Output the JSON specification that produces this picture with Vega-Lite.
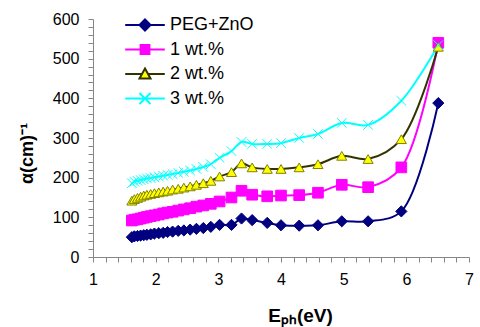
{
  "$schema": "https://vega.github.io/schema/vega-lite/v6.json",
  "width": 376,
  "height": 238,
  "autosize": {"type": "none"},
  "padding": {"left": 93, "top": 19, "right": 11, "bottom": 70},
  "background": "white",
  "config": {
    "view": {"stroke": null},
    "font": "Liberation Sans",
    "legend": {
      "orient": "none", "legendX": 43, "legendY": -3,
      "labelFont": "Liberation Sans", "labelFontSize": 18, "labelColor": "black",
      "labelOffset": 16, "rowPadding": 5.5, "symbolSize": 121, "symbolStrokeWidth": 2,
      "symbolOpacity": 1, "padding": 0
    }
  },
  "data": {"values": [
    {"E":1.62,"alpha":50,"series":"PEG+ZnO"},{"E":1.66,"alpha":52,"series":"PEG+ZnO"},{"E":1.71,"alpha":53,"series":"PEG+ZnO"},{"E":1.76,"alpha":54,"series":"PEG+ZnO"},{"E":1.81,"alpha":55,"series":"PEG+ZnO"},{"E":1.86,"alpha":56,"series":"PEG+ZnO"},{"E":1.92,"alpha":57,"series":"PEG+ZnO"},{"E":1.98,"alpha":59,"series":"PEG+ZnO"},{"E":2.05,"alpha":60,"series":"PEG+ZnO"},{"E":2.12,"alpha":61,"series":"PEG+ZnO"},{"E":2.19,"alpha":63,"series":"PEG+ZnO"},{"E":2.27,"alpha":64,"series":"PEG+ZnO"},{"E":2.36,"alpha":66,"series":"PEG+ZnO"},{"E":2.45,"alpha":67,"series":"PEG+ZnO"},{"E":2.55,"alpha":69,"series":"PEG+ZnO"},{"E":2.65,"alpha":71,"series":"PEG+ZnO"},{"E":2.76,"alpha":73,"series":"PEG+ZnO"},{"E":2.88,"alpha":76,"series":"PEG+ZnO"},{"E":3.02,"alpha":81,"series":"PEG+ZnO"},{"E":3.21,"alpha":81,"series":"PEG+ZnO"},{"E":3.37,"alpha":97,"series":"PEG+ZnO"},{"E":3.54,"alpha":93,"series":"PEG+ZnO"},{"E":3.78,"alpha":86,"series":"PEG+ZnO"},{"E":4.00,"alpha":80,"series":"PEG+ZnO"},{"E":4.29,"alpha":79,"series":"PEG+ZnO"},{"E":4.59,"alpha":80,"series":"PEG+ZnO"},{"E":4.97,"alpha":90,"series":"PEG+ZnO"},{"E":5.39,"alpha":90,"series":"PEG+ZnO"},{"E":5.92,"alpha":115,"series":"PEG+ZnO"},{"E":6.51,"alpha":388,"series":"PEG+ZnO"},
    {"E":1.62,"alpha":92,"series":"1 wt.%"},{"E":1.66,"alpha":94,"series":"1 wt.%"},{"E":1.71,"alpha":95,"series":"1 wt.%"},{"E":1.76,"alpha":97,"series":"1 wt.%"},{"E":1.81,"alpha":99,"series":"1 wt.%"},{"E":1.86,"alpha":101,"series":"1 wt.%"},{"E":1.92,"alpha":103,"series":"1 wt.%"},{"E":1.98,"alpha":105,"series":"1 wt.%"},{"E":2.05,"alpha":107,"series":"1 wt.%"},{"E":2.12,"alpha":110,"series":"1 wt.%"},{"E":2.19,"alpha":112,"series":"1 wt.%"},{"E":2.27,"alpha":114,"series":"1 wt.%"},{"E":2.36,"alpha":117,"series":"1 wt.%"},{"E":2.45,"alpha":120,"series":"1 wt.%"},{"E":2.55,"alpha":123,"series":"1 wt.%"},{"E":2.65,"alpha":127,"series":"1 wt.%"},{"E":2.76,"alpha":130,"series":"1 wt.%"},{"E":2.88,"alpha":134,"series":"1 wt.%"},{"E":3.02,"alpha":140,"series":"1 wt.%"},{"E":3.21,"alpha":150,"series":"1 wt.%"},{"E":3.37,"alpha":167,"series":"1 wt.%"},{"E":3.54,"alpha":157,"series":"1 wt.%"},{"E":3.78,"alpha":153,"series":"1 wt.%"},{"E":4.00,"alpha":155,"series":"1 wt.%"},{"E":4.29,"alpha":156,"series":"1 wt.%"},{"E":4.59,"alpha":162,"series":"1 wt.%"},{"E":4.97,"alpha":182,"series":"1 wt.%"},{"E":5.39,"alpha":176,"series":"1 wt.%"},{"E":5.92,"alpha":226,"series":"1 wt.%"},{"E":6.51,"alpha":540,"series":"1 wt.%"},
    {"E":1.62,"alpha":142,"series":"2 wt.%"},{"E":1.66,"alpha":146,"series":"2 wt.%"},{"E":1.71,"alpha":149,"series":"2 wt.%"},{"E":1.76,"alpha":152,"series":"2 wt.%"},{"E":1.81,"alpha":155,"series":"2 wt.%"},{"E":1.86,"alpha":157,"series":"2 wt.%"},{"E":1.92,"alpha":159,"series":"2 wt.%"},{"E":1.98,"alpha":161,"series":"2 wt.%"},{"E":2.05,"alpha":163,"series":"2 wt.%"},{"E":2.12,"alpha":165,"series":"2 wt.%"},{"E":2.19,"alpha":167,"series":"2 wt.%"},{"E":2.27,"alpha":170,"series":"2 wt.%"},{"E":2.36,"alpha":172,"series":"2 wt.%"},{"E":2.45,"alpha":175,"series":"2 wt.%"},{"E":2.55,"alpha":178,"series":"2 wt.%"},{"E":2.65,"alpha":182,"series":"2 wt.%"},{"E":2.76,"alpha":186,"series":"2 wt.%"},{"E":2.88,"alpha":192,"series":"2 wt.%"},{"E":3.02,"alpha":203,"series":"2 wt.%"},{"E":3.21,"alpha":214,"series":"2 wt.%"},{"E":3.37,"alpha":236,"series":"2 wt.%"},{"E":3.54,"alpha":226,"series":"2 wt.%"},{"E":3.78,"alpha":222,"series":"2 wt.%"},{"E":4.00,"alpha":222,"series":"2 wt.%"},{"E":4.29,"alpha":226,"series":"2 wt.%"},{"E":4.59,"alpha":234,"series":"2 wt.%"},{"E":4.97,"alpha":255,"series":"2 wt.%"},{"E":5.39,"alpha":247,"series":"2 wt.%"},{"E":5.92,"alpha":297,"series":"2 wt.%"},{"E":6.51,"alpha":530,"series":"2 wt.%"},
    {"E":1.62,"alpha":186,"series":"3 wt.%"},{"E":1.66,"alpha":190,"series":"3 wt.%"},{"E":1.71,"alpha":192,"series":"3 wt.%"},{"E":1.76,"alpha":194,"series":"3 wt.%"},{"E":1.81,"alpha":196,"series":"3 wt.%"},{"E":1.86,"alpha":198,"series":"3 wt.%"},{"E":1.92,"alpha":199,"series":"3 wt.%"},{"E":1.98,"alpha":201,"series":"3 wt.%"},{"E":2.05,"alpha":203,"series":"3 wt.%"},{"E":2.12,"alpha":205,"series":"3 wt.%"},{"E":2.19,"alpha":207,"series":"3 wt.%"},{"E":2.27,"alpha":209,"series":"3 wt.%"},{"E":2.36,"alpha":212,"series":"3 wt.%"},{"E":2.45,"alpha":215,"series":"3 wt.%"},{"E":2.55,"alpha":218,"series":"3 wt.%"},{"E":2.65,"alpha":222,"series":"3 wt.%"},{"E":2.76,"alpha":227,"series":"3 wt.%"},{"E":2.88,"alpha":234,"series":"3 wt.%"},{"E":3.02,"alpha":250,"series":"3 wt.%"},{"E":3.21,"alpha":267,"series":"3 wt.%"},{"E":3.37,"alpha":290,"series":"3 wt.%"},{"E":3.54,"alpha":285,"series":"3 wt.%"},{"E":3.78,"alpha":285,"series":"3 wt.%"},{"E":4.00,"alpha":287,"series":"3 wt.%"},{"E":4.29,"alpha":300,"series":"3 wt.%"},{"E":4.59,"alpha":310,"series":"3 wt.%"},{"E":4.97,"alpha":338,"series":"3 wt.%"},{"E":5.39,"alpha":333,"series":"3 wt.%"},{"E":5.92,"alpha":394,"series":"3 wt.%"},{"E":6.51,"alpha":534,"series":"3 wt.%"}
  ]},
  "encoding": {
    "x": {"field": "E", "type": "quantitative",
      "scale": {"domain": [1, 7], "nice": false, "zero": false},
      "axis": {
        "title": "Eₚₕ(eV)", "titleFont": "Liberation Sans", "titleFontSize": 19, "titleFontWeight": "bold", "titleColor": "black", "titlePadding": 19, "titleX": 207,
        "values": [1,1.2,1.4,1.6,1.8,2,2.2,2.4,2.6,2.8,3,3.2,3.4,3.6,3.8,4,4.2,4.4,4.6,4.8,5,5.2,5.4,5.6,5.8,6,6.2,6.4,6.6,6.8,7],
        "labelExpr": "datum.value % 1 == 0 ? toString(datum.value) : ''",
        "grid": false, "tickSize": 5, "tickColor": "#868686", "domainColor": "#868686",
        "labelFont": "Liberation Sans", "labelFontSize": 16, "labelColor": "black", "labelPadding": 9, "labelFlush": false, "labelOverlap": false
      }},
    "y": {"field": "alpha", "type": "quantitative",
      "scale": {"domain": [0, 600], "nice": false},
      "axis": {
        "title": "α(cm)⁻¹", "titleFont": "Liberation Sans", "titleFontSize": 18, "titleFontWeight": "bold", "titleColor": "black", "titlePadding": 16, "titleY": 134,
        "values": [0,20,40,60,80,100,120,140,160,180,200,220,240,260,280,300,320,340,360,380,400,420,440,460,480,500,520,540,560,580,600],
        "labelExpr": "datum.value % 100 == 0 ? datum.label : ''",
        "grid": false, "tickSize": 5, "tickColor": "#868686", "domainColor": "#868686",
        "labelFont": "Liberation Sans", "labelFontSize": 16, "labelColor": "black", "labelPadding": 9, "labelOverlap": false
      }}
  },
  "layer": [
    {
      "mark": {"type": "line", "interpolate": "catmull-rom", "strokeWidth": 2},
      "encoding": {
        "detail": {"field": "series"},
        "stroke": {"field": "series", "type": "nominal", "legend": null,
          "scale": {"domain": ["PEG+ZnO", "1 wt.%", "2 wt.%", "3 wt.%"], "range": ["#000080", "#FF00FF", "#333300", "#00FFFF"]}}
      }
    },
    {
      "mark": {"type": "point", "opacity": 1},
      "encoding": {
        "shape": {"field": "series", "type": "nominal", "legend": null,
          "scale": {"domain": ["PEG+ZnO", "1 wt.%", "2 wt.%", "3 wt.%"], "range": ["diamond", "square", "triangle-up", "M-1,-1L1,1M-1,1L1,-1"]}},
        "fill": {"field": "series", "type": "nominal", "legend": null,
          "scale": {"domain": ["PEG+ZnO", "1 wt.%", "2 wt.%", "3 wt.%"], "range": ["#000080", "#FF00FF", "#FFFF00", "transparent"]}},
        "stroke": {"field": "series", "type": "nominal", "legend": null,
          "scale": {"domain": ["PEG+ZnO", "1 wt.%", "2 wt.%", "3 wt.%"], "range": ["#000080", "#FF00FF", "#808000", "#00FFFF"]}},
        "size": {"field": "series", "type": "nominal", "legend": null,
          "scale": {"domain": ["PEG+ZnO", "1 wt.%", "2 wt.%", "3 wt.%"], "range": [125, 90, 120, 170]}},
        "strokeWidth": {"field": "series", "type": "nominal", "legend": null,
          "scale": {"domain": ["PEG+ZnO", "1 wt.%", "2 wt.%", "3 wt.%"], "range": [1, 1, 1, 2]}}
      }
    },
    {
      "mark": {"type": "point", "opacity": 0},
      "encoding": {
        "shape": {"field": "series", "type": "nominal", "title": null,
          "scale": {"domain": ["PEG+ZnO", "1 wt.%", "2 wt.%", "3 wt.%"], "range": [
            "M-3.6,0H3.6M0,-1L1,0L0,1L-1,0Z",
            "M-3.6,0H3.6M-0.8,-0.8H0.8V0.8H-0.8Z",
            "M-3.6,0H-0.56M0.56,0H3.6M0,-1L1,0.8H-1Z",
            "M-3.6,0H3.6M-1,-1L1,1M-1,1L1,-1"]}},
        "fill": {"field": "series", "type": "nominal", "title": null,
          "scale": {"domain": ["PEG+ZnO", "1 wt.%", "2 wt.%", "3 wt.%"], "range": ["#000080", "#FF00FF", "#FFFF00", "transparent"]}},
        "stroke": {"field": "series", "type": "nominal", "title": null,
          "scale": {"domain": ["PEG+ZnO", "1 wt.%", "2 wt.%", "3 wt.%"], "range": ["#000080", "#FF00FF", "#333300", "#00FFFF"]}}
      }
    }
  ],
  "resolve": {"scale": {"shape": "independent", "fill": "independent", "stroke": "independent"}}
}
